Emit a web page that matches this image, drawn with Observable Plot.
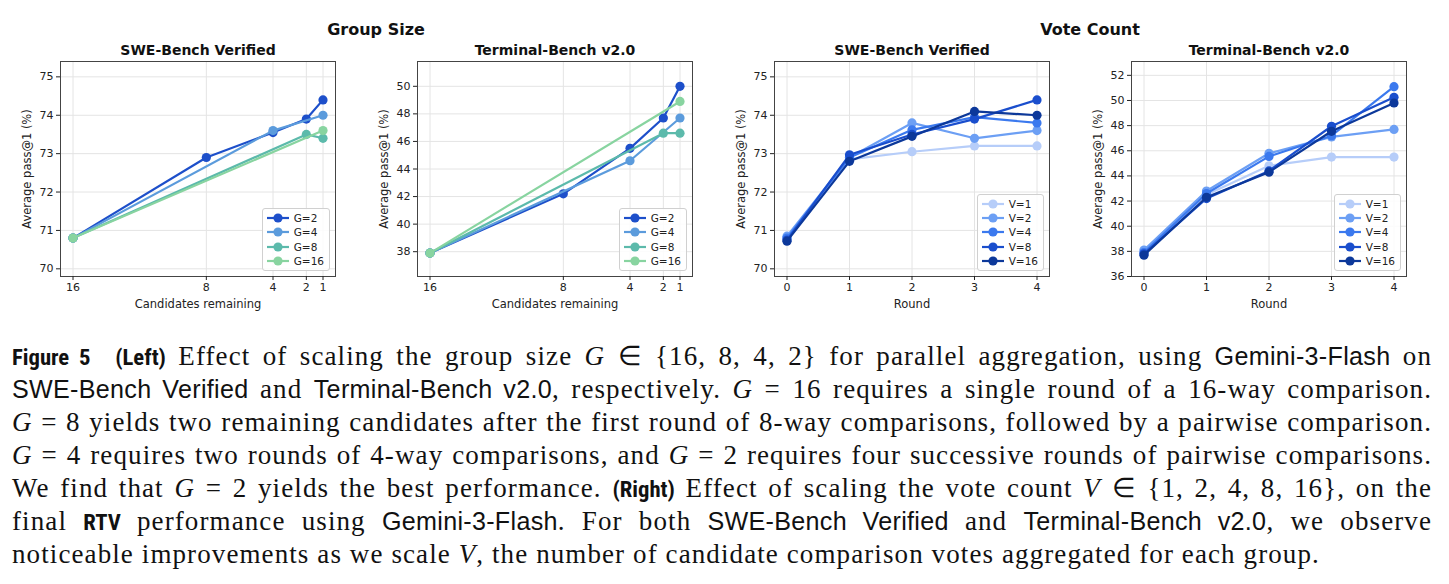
<!DOCTYPE html>
<html>
<head>
<meta charset="utf-8">
<script src="https://cdn.jsdelivr.net/npm/d3@7"></script>
<script src="https://cdn.jsdelivr.net/npm/@observablehq/plot@0.6"></script>
<style>
  html, body { margin: 0; padding: 0; background: #fff; }
  #fig { position: relative; width: 1449px; height: 584px; overflow: hidden; }
  .panel { position: absolute; top: 0; }
  .suptitle { position: absolute; top: 20px; font: bold 16px "DejaVu Sans"; color: #111; transform: translateX(-50%); white-space: nowrap; }
  .legend { position: absolute; background: rgba(255,255,255,0.85); border: 1px solid #d0d0d0; border-radius: 3px;
            padding: 2px 5px 2px 4px; font: 10.5px "DejaVu Sans"; color: #222; }
  .legend .row { display: flex; align-items: center; height: 14.3px; }
  .legend svg { margin-right: 5px; }
  #caption { position: absolute; left: 12px; top: 340px; width: 1420px; font-family: "Liberation Serif"; font-size: 27px; letter-spacing: 1.1px; color: #111; }
  #caption .ln { height: 33px; line-height: 33px; text-align: justify; text-align-last: justify; white-space: nowrap; }
  #caption .ln.last { text-align-last: left; }
  #caption b.sf { font-family: "Liberation Sans Narrow", "Roboto Condensed", "Liberation Sans"; font-weight: bold; font-size: 0.84em; letter-spacing: 0; }
  #caption .tt { font-family: "Liberation Sans"; font-size: 0.93em; letter-spacing: 0.3px; }
  #caption i { font-style: italic; }
</style>
</head>
<body>
<div id="fig"></div>
<script>
// ---- Group size: candidates remaining after each round, per group size G ----
const groupSeries = ["G=2", "G=4", "G=8", "G=16"];
const groupColors = ["#1d4fca", "#5b9bdc", "#5cbaab", "#88d4a0"];
const g2Steps  = [16, 8, 4, 2, 1];
const g4Steps  = [16, 4, 1];
const g8Steps  = [16, 2, 1];
const g16Steps = [16, 1];
const candidateTicks = [16, 8, 4, 2, 1];

// SWE-Bench Verified, average pass@1 (%)
const sweG2  = [70.8, 72.9, 73.55, 73.9, 74.4];
const sweG4  = [70.8, 73.6, 74.0];
const sweG8  = [70.8, 73.5, 73.4];
const sweG16 = [70.8, 73.6];

// Terminal-Bench v2.0, average pass@1 (%)
const tbG2  = [37.9, 42.2, 45.5, 47.7, 50.0];
const tbG4  = [37.9, 44.6, 47.7];
const tbG8  = [37.9, 46.6, 46.6];
const tbG16 = [37.9, 48.9];

// ---- Vote count: accuracy after each round, per vote count V ----
const voteSeries = ["V=1", "V=2", "V=4", "V=8", "V=16"];
const voteColors = ["#b6cdf9", "#6c9ff4", "#3b79ee", "#1a4ecd", "#0c389a"];
const rounds = [0, 1, 2, 3, 4];

const sweV1  = [70.8, 72.85, 73.05, 73.2, 73.2];
const sweV2  = [70.85, 72.9, 73.8, 73.4, 73.6];
const sweV4  = [70.8, 72.9, 73.62, 73.95, 73.8];
const sweV8  = [70.75, 72.97, 73.5, 73.9, 74.4];
const sweV16 = [70.72, 72.8, 73.45, 74.1, 74.0];

const tbV1  = [38.0, 42.5, 44.8, 45.5, 45.5];
const tbV2  = [38.1, 42.8, 45.8, 47.1, 47.7];
const tbV4  = [37.9, 42.6, 45.55, 47.2, 51.1];
const tbV8  = [37.8, 42.2, 44.4, 47.95, 50.25];
const tbV16 = [37.7, 42.3, 44.3, 47.55, 49.8];

// Build long-form rows from parallel arrays
function rows(series, xs, ys) {
  return series.map((s, i) => xs[i].map((x, j) => ({series: s, x, y: ys[i][j]}))).flat();
}

const sweGroup = rows(groupSeries, [g2Steps, g4Steps, g8Steps, g16Steps], [sweG2, sweG4, sweG8, sweG16]);
const tbGroup  = rows(groupSeries, [g2Steps, g4Steps, g8Steps, g16Steps], [tbG2, tbG4, tbG8, tbG16]);
const sweVote  = rows(voteSeries, voteSeries.map(() => rounds), [sweV1, sweV2, sweV4, sweV8, sweV16]);
const tbVote   = rows(voteSeries, voteSeries.map(() => rounds), [tbV1, tbV2, tbV4, tbV8, tbV16]);

const W = 345, H = 320, ML = 60, MR = 10, MT = 61, MB = 44;

function panel({data, series, colors, xDomain, xTicks, yDomain, yTicks, xLabel, title}) {
  // each series draws its line then its markers, so later series sit on top
  const seriesMarks = series.flatMap(s => {
    const d = data.filter(r => r.series === s);
    return [
      Plot.line(d, {x: "x", y: "y", stroke: "series", strokeWidth: 2.2}),
      Plot.dot(d, {x: "x", y: "y", fill: "series", r: 4.6})
    ];
  });
  return Plot.plot({
    width: W, height: H, marginLeft: ML, marginRight: MR, marginTop: MT, marginBottom: MB,
    style: {fontFamily: "DejaVu Sans", fontSize: "11px", color: "#222", background: "transparent", overflow: "visible"},
    x: {domain: xDomain},
    y: {domain: yDomain},
    color: {domain: series, range: colors},
    marks: [
      Plot.gridX(xTicks, {stroke: "#e4e4e4", strokeOpacity: 1}),
      Plot.gridY(yTicks, {stroke: "#e4e4e4", strokeOpacity: 1}),
      ...seriesMarks,
      Plot.frame({stroke: "#444", strokeWidth: 1}),
      Plot.axisX(xTicks, {tickSize: 4, tickPadding: 3, tickFormat: d => String(d), fontSize: 11, label: null}),
      Plot.axisY(yTicks, {tickSize: 4, tickPadding: 3, tickFormat: d => String(d), fontSize: 11, label: null}),
      Plot.text([xLabel], {frameAnchor: "bottom", dy: 31, fontSize: 11.5, fill: "#222"}),
      Plot.text(["Average pass@1 (%)"], {frameAnchor: "left", rotate: -90, dx: -33, textAnchor: "middle", fontSize: 11.5, fill: "#222"}),
      Plot.text([title], {frameAnchor: "top", dy: -16, fontWeight: "bold", fontSize: 14, fill: "#111"})
    ]
  });
}

function legend(series, colors) {
  const box = document.createElement("div");
  box.className = "legend";
  series.forEach((s, i) => {
    const row = document.createElement("div");
    row.className = "row";
    row.innerHTML = `<svg width="22" height="10"><line x1="0" x2="22" y1="5" y2="5" stroke="${colors[i]}" stroke-width="2.2"/>` +
      `<circle cx="11" cy="5" r="4.6" fill="${colors[i]}"/></svg><span>${s}</span>`;
    box.appendChild(row);
  });
  return box;
}

const fig = document.getElementById("fig");
const panels = [
  {left: 60, data: sweGroup, series: groupSeries, colors: groupColors, xDomain: [16.75, 0.25], xTicks: candidateTicks,
   yDomain: [69.8, 75.4], yTicks: [70, 71, 72, 73, 74, 75], xLabel: "Candidates remaining", title: "SWE-Bench Verified"},
  {left: 417, data: tbGroup, series: groupSeries, colors: groupColors, xDomain: [16.75, 0.25], xTicks: candidateTicks,
   yDomain: [36.2, 51.8], yTicks: [38, 40, 42, 44, 46, 48, 50], xLabel: "Candidates remaining", title: "Terminal-Bench v2.0"},
  {left: 774, data: sweVote, series: voteSeries, colors: voteColors, xDomain: [-0.2, 4.2], xTicks: rounds,
   yDomain: [69.8, 75.4], yTicks: [70, 71, 72, 73, 74, 75], xLabel: "Round", title: "SWE-Bench Verified"},
  {left: 1131, data: tbVote, series: voteSeries, colors: voteColors, xDomain: [-0.2, 4.2], xTicks: rounds,
   yDomain: [36, 53.1], yTicks: [36, 38, 40, 42, 44, 46, 48, 50, 52], xLabel: "Round", title: "Terminal-Bench v2.0"}
];

panels.forEach(p => {
  const wrap = document.createElement("div");
  wrap.className = "panel";
  wrap.style.left = (p.left - ML) + "px";
  wrap.style.width = W + "px";
  wrap.style.height = H + "px";
  wrap.appendChild(panel(p));
  const lg = legend(p.series, p.colors);
  lg.style.right = (MR + 5) + "px";
  lg.style.bottom = (MB + 5) + "px";
  wrap.appendChild(lg);
  fig.appendChild(wrap);
});

// Section headings over each pair of panels
[["Group Size", (60 + 692) / 2], ["Vote Count", (774 + 1406) / 2]].forEach(([t, cx]) => {
  const d = document.createElement("div");
  d.className = "suptitle";
  d.style.left = cx + "px";
  d.textContent = t;
  fig.appendChild(d);
});

// Figure caption
const captionLines = [
  `<b class="sf">Figure 5</b>&nbsp; <b class="sf">(Left)</b> Effect of scaling the group size <i>G</i> ∈ {16, 8, 4, 2} for parallel aggregation, using <span class="tt">Gemini-3-Flash</span> on`,
  `<span class="tt">SWE-Bench Verified</span> and <span class="tt">Terminal-Bench v2.0</span>, respectively. <i>G</i> = 16 requires a single round of a 16-way comparison.`,
  `<i>G</i> = 8 yields two remaining candidates after the first round of 8-way comparisons, followed by a pairwise comparison.`,
  `<i>G</i> = 4 requires two rounds of 4-way comparisons, and <i>G</i> = 2 requires four successive rounds of pairwise comparisons.`,
  `We find that <i>G</i> = 2 yields the best performance. <b class="sf">(Right)</b> Effect of scaling the vote count <i>V</i> ∈ {1, 2, 4, 8, 16}, on the`,
  `final <b class="sf">RTV</b> performance using <span class="tt">Gemini-3-Flash</span>. For both <span class="tt">SWE-Bench Verified</span> and <span class="tt">Terminal-Bench v2.0</span>, we observe`,
  `noticeable improvements as we scale <i>V</i>, the number of candidate comparison votes aggregated for each group.`
];
const cap = document.createElement("div");
cap.id = "caption";
cap.innerHTML = captionLines.map((l, i) => `<div class="ln${i === captionLines.length - 1 ? " last" : ""}">${l}</div>`).join("");
fig.appendChild(cap);
</script>
</body>
</html>
